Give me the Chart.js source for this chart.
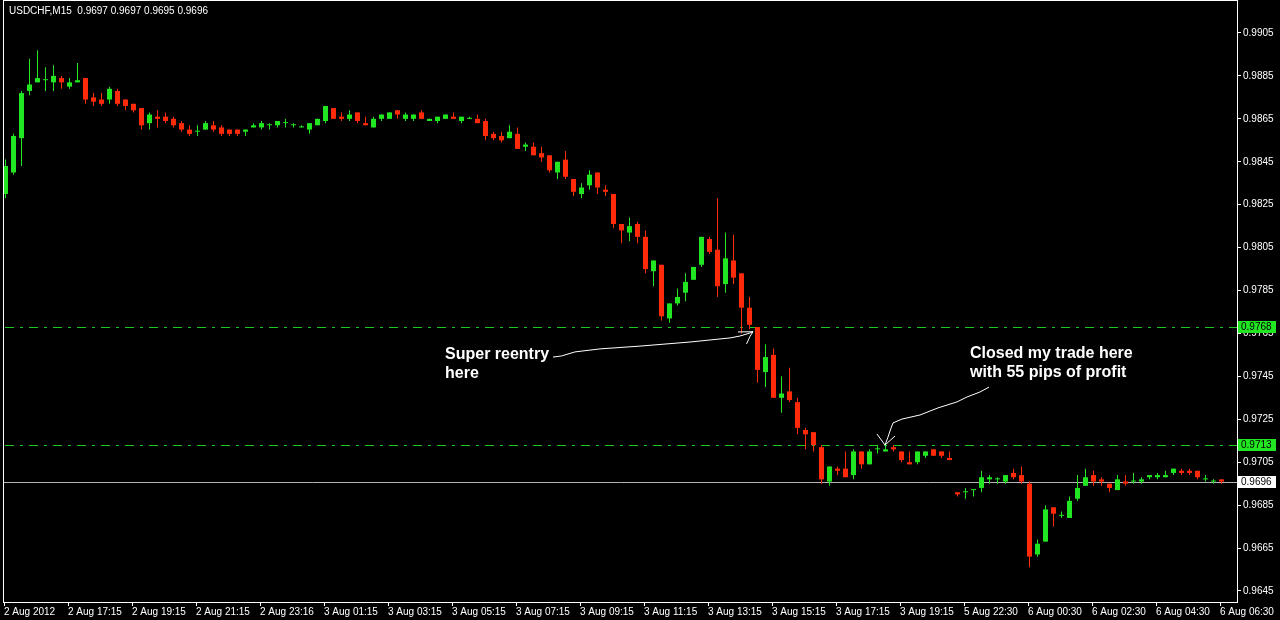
<!DOCTYPE html>
<html lang="en">
<head>
  <meta charset="UTF-8">
  <title>USDCHF,M15</title>
  <style>
    html, body {
      margin: 0;
      padding: 0;
      background-color: #000;
    }
    #chart {
      display: block;
    }
  </style>
  <script src="https://cdn.jsdelivr.net/npm/chart.js"></script>
</head>
<body>

<canvas id="chart" width="1280" height="620"></canvas>

<script>
  // USDCHF M15 bars, 2 Aug 2012 15:15 .. 6 Aug 2012 06:30 (bar index = position)
  const open = [
    0.9830, 0.9840, 0.9856, 0.9878, 0.9882, 0.9883, 0.9882, 0.9884, 0.9880, 0.9882,
    0.9884, 0.9875, 0.9874, 0.9874, 0.9878, 0.9874, 0.9872, 0.9870, 0.9863, 0.9866,
    0.9866, 0.9865, 0.9863, 0.9860, 0.9859, 0.9860, 0.9862, 0.9861, 0.9860, 0.9860,
    0.9859, 0.9861, 0.9861, 0.9862, 0.9862, 0.9863, 0.9862, 0.9861, 0.9860, 0.9862,
    0.9864, 0.9870, 0.9866, 0.9865, 0.9868, 0.9863, 0.9861, 0.9865, 0.9865, 0.9869,
    0.9865, 0.9865, 0.9868, 0.9864, 0.9864, 0.9865, 0.9866, 0.9864, 0.9865, 0.9865,
    0.9864, 0.9858, 0.9857, 0.9856, 0.9858, 0.9852, 0.9852, 0.9849, 0.9848, 0.9840,
    0.9846, 0.9837, 0.9830, 0.9834, 0.9840, 0.9832, 0.9830, 0.9816, 0.9812, 0.9816,
    0.9810, 0.9794, 0.9797, 0.9772, 0.9779, 0.9784, 0.9790, 0.9797, 0.9809, 0.9804,
    0.9788, 0.9799, 0.9793, 0.9777, 0.9768, 0.9747, 0.9755, 0.9735, 0.9738, 0.9733,
    0.9720, 0.9719, 0.9712, 0.9696, 0.9702, 0.9702, 0.9699, 0.9710, 0.9704, 0.9711,
    0.9710, 0.9712, 0.9710, 0.9705, 0.9705, 0.9708, 0.9711, 0.9710, 0.9707, 0.9691,
    0.9691, 0.9692, 0.9693, 0.9697, 0.9697, 0.9696, 0.9700, 0.9699, 0.9695, 0.9662,
    0.9668, 0.9684, 0.9680, 0.9679, 0.9688, 0.9694, 0.9699, 0.9697, 0.9695, 0.9692,
    0.9696, 0.9696, 0.9696, 0.9698, 0.9698, 0.9698, 0.9700, 0.9701, 0.9701, 0.9701,
    0.9697, 0.9696, 0.9697
  ];
  const high = [
    0.9846, 0.9858, 0.9878, 0.9893, 0.9897, 0.9889, 0.9890, 0.9885, 0.9884, 0.9891,
    0.9884, 0.9877, 0.9877, 0.9880, 0.9879, 0.9874, 0.9872, 0.9870, 0.9868, 0.9869,
    0.9868, 0.9866, 0.9864, 0.9862, 0.9862, 0.9864, 0.9864, 0.9862, 0.9860, 0.9860,
    0.9860, 0.9863, 0.9864, 0.9863, 0.9864, 0.9865, 0.9863, 0.9862, 0.9863, 0.9865,
    0.9871, 0.9870, 0.9868, 0.9869, 0.9868, 0.9866, 0.9866, 0.9867, 0.9868, 0.9869,
    0.9868, 0.9867, 0.9869, 0.9865, 0.9866, 0.9867, 0.9868, 0.9866, 0.9866, 0.9867,
    0.9865, 0.9859, 0.9859, 0.9862, 0.9861, 0.9854, 0.9854, 0.9852, 0.9848, 0.9845,
    0.9850, 0.9837, 0.9835, 0.9841, 0.9840, 0.9834, 0.9830, 0.9816, 0.9819, 0.9817,
    0.9813, 0.9799, 0.9797, 0.9779, 0.9786, 0.9793, 0.9796, 0.9810, 0.9810, 0.9828,
    0.9812, 0.9811, 0.9793, 0.9782, 0.9768, 0.9760, 0.9758, 0.9745, 0.9749, 0.9735,
    0.9721, 0.9719, 0.9713, 0.9703, 0.9703, 0.9710, 0.9711, 0.9710, 0.9711, 0.9713,
    0.9713, 0.9713, 0.9710, 0.9710, 0.9710, 0.9710, 0.9711, 0.9710, 0.9710, 0.9691,
    0.9693, 0.9692, 0.9701, 0.9699, 0.9698, 0.9699, 0.9702, 0.9703, 0.9696, 0.9669,
    0.9685, 0.9684, 0.9682, 0.9689, 0.9699, 0.9702, 0.9701, 0.9698, 0.9695, 0.9699,
    0.9699, 0.9700, 0.9698, 0.9699, 0.9700, 0.9701, 0.9702, 0.9702, 0.9702, 0.9701,
    0.9699, 0.9697, 0.9697
  ];
  const low = [
    0.9828, 0.9839, 0.9843, 0.9876, 0.9882, 0.9878, 0.9878, 0.9879, 0.9879, 0.9882,
    0.9872, 0.9871, 0.9871, 0.9872, 0.9871, 0.9869, 0.9868, 0.9860, 0.9860, 0.9861,
    0.9863, 0.9861, 0.9859, 0.9857, 0.9857, 0.9860, 0.9859, 0.9857, 0.9857, 0.9857,
    0.9857, 0.9861, 0.9860, 0.9860, 0.9861, 0.9861, 0.9861, 0.9861, 0.9858, 0.9862,
    0.9863, 0.9865, 0.9864, 0.9864, 0.9863, 0.9862, 0.9861, 0.9864, 0.9865, 0.9865,
    0.9864, 0.9864, 0.9865, 0.9864, 0.9863, 0.9865, 0.9865, 0.9863, 0.9865, 0.9863,
    0.9855, 0.9855, 0.9854, 0.9856, 0.9851, 0.9850, 0.9848, 0.9845, 0.9840, 0.9837,
    0.9837, 0.9829, 0.9828, 0.9832, 0.9830, 0.9829, 0.9814, 0.9807, 0.9808, 0.9807,
    0.9793, 0.9787, 0.9771, 0.9770, 0.9778, 0.9780, 0.9790, 0.9796, 0.9802, 0.9782,
    0.9784, 0.9788, 0.9765, 0.9767, 0.9742, 0.9740, 0.9735, 0.9728, 0.9733, 0.9718,
    0.9711, 0.9710, 0.9695, 0.9694, 0.9699, 0.9698, 0.9697, 0.9702, 0.9704, 0.9709,
    0.9710, 0.9710, 0.9705, 0.9704, 0.9704, 0.9707, 0.9708, 0.9707, 0.9706, 0.9689,
    0.9688, 0.9689, 0.9691, 0.9695, 0.9695, 0.9695, 0.9697, 0.9695, 0.9656, 0.9661,
    0.9668, 0.9675, 0.9679, 0.9679, 0.9687, 0.9694, 0.9694, 0.9694, 0.9691, 0.9692,
    0.9694, 0.9695, 0.9695, 0.9697, 0.9697, 0.9698, 0.9699, 0.9699, 0.9699, 0.9697,
    0.9696, 0.9695, 0.9695
  ];
  const close = [
    0.9843, 0.9857, 0.9877, 0.9881, 0.9884, 0.9883, 0.9885, 0.9882, 0.9882, 0.9883,
    0.9874, 0.9873, 0.9872, 0.9879, 0.9872, 0.9871, 0.9869, 0.9862, 0.9867, 0.9865,
    0.9864, 0.9862, 0.9860, 0.9858, 0.9859, 0.9863, 0.9860, 0.9858, 0.9858, 0.9858,
    0.9860, 0.9862, 0.9863, 0.9862, 0.9864, 0.9863, 0.9862, 0.9861, 0.9863, 0.9865,
    0.9871, 0.9865, 0.9865, 0.9867, 0.9864, 0.9862, 0.9865, 0.9867, 0.9868, 0.9867,
    0.9867, 0.9867, 0.9865, 0.9865, 0.9866, 0.9867, 0.9865, 0.9866, 0.9865, 0.9863,
    0.9857, 0.9856, 0.9855, 0.9859, 0.9851, 0.9853, 0.9848, 0.9847, 0.9841, 0.9845,
    0.9838, 0.9831, 0.9833, 0.9839, 0.9833, 0.9831, 0.9816, 0.9813, 0.9815, 0.9810,
    0.9795, 0.9799, 0.9773, 0.9779, 0.9782, 0.9789, 0.9796, 0.9810, 0.9803, 0.9787,
    0.9800, 0.9791, 0.9777, 0.9769, 0.9748, 0.9754, 0.9735, 0.9737, 0.9734, 0.9721,
    0.9718, 0.9713, 0.9697, 0.9703, 0.9701, 0.9698, 0.9710, 0.9704, 0.9710, 0.9711,
    0.9711, 0.9711, 0.9706, 0.9704, 0.9710, 0.9710, 0.9708, 0.9708, 0.9706, 0.9690,
    0.9691, 0.9692, 0.9698, 0.9698, 0.9697, 0.9699, 0.9698, 0.9696, 0.9661, 0.9667,
    0.9683, 0.9681, 0.9680, 0.9687, 0.9693, 0.9698, 0.9696, 0.9696, 0.9693, 0.9697,
    0.9695, 0.9696, 0.9697, 0.9699, 0.9699, 0.9699, 0.9702, 0.9700, 0.9700, 0.9698,
    0.9697, 0.9696, 0.9696
  ];

  // time axis labels, one every 8 bars (2 hours)
  const tickBars = [0, 8, 16, 24, 32, 40, 48, 56, 64, 72, 80, 88, 96, 104, 112, 120, 128, 136, 144, 152];
  const tickLabels = [
    '2 Aug 2012', '2 Aug 17:15', '2 Aug 19:15', '2 Aug 21:15', '2 Aug 23:16',
    '3 Aug 01:15', '3 Aug 03:15', '3 Aug 05:15', '3 Aug 07:15', '3 Aug 09:15',
    '3 Aug 11:15', '3 Aug 13:15', '3 Aug 15:15', '3 Aug 17:15', '3 Aug 19:15',
    '5 Aug 22:30', '6 Aug 00:30', '6 Aug 02:30', '6 Aug 04:30', '6 Aug 06:30'
  ];
  const priceTicks = [0.9645, 0.9665, 0.9685, 0.9705, 0.9725, 0.9745, 0.9765,
                      0.9785, 0.9805, 0.9825, 0.9845, 0.9865, 0.9885, 0.9905];

  const levels = [0.9768, 0.9713];   // entry / exit lines
  const bid = 0.9696;
  const title = 'USDCHF,M15  0.9697 0.9697 0.9695 0.9696';

  // hand-drawn notes, in (bar, price) units
  const notes = [
    { lines: ['Super reentry', 'here'], bar: 54.94, price: 0.97531 },
    { lines: ['Closed my trade here', 'with 55 pips of profit'], bar: 120.56, price: 0.97536 }
  ];
  const arrows = [
    {
      path: [[68.44, 0.97540], [69.5, 0.97545], [71.19, 0.97564], [74.31, 0.97578], [79.31, 0.97591],
             [85.56, 0.97610], [90.56, 0.97629], [91.81, 0.97638], [93.06, 0.97652], [93.44, 0.97658]],
      heads: [
        [[91.56, 0.97657], [93.44, 0.97658]],
        [[92.63, 0.97601], [93.06, 0.97636], [93.44, 0.97658]]
      ]
    },
    {
      path: [[122.94, 0.97400], [121.81, 0.97377], [120.19, 0.97354], [118.94, 0.97331], [116.56, 0.97303],
             [114.31, 0.97270], [112.06, 0.97251], [110.94, 0.97233], [110.69, 0.97209], [110.31, 0.97167],
             [109.94, 0.97130]],
      heads: [
        [[108.94, 0.97181], [109.94, 0.97130], [111.19, 0.97172]]
      ]
    }
  ];

  const UP = '#22e622';
  const DOWN = '#ff2a0a';
  const FONT = "'Liberation Sans', Arial, sans-serif";
  const BAR_SHIFT = -0.1875; // MT4 puts the time tick at the bar's left side

  const colors = open.map((o, i) => close[i] >= o ? UP : DOWN);

  const overlay = {
    id: 'overlay',
    beforeDatasetsDraw(chart) {
      const { ctx, chartArea: a, scales: { y } } = chart;
      ctx.save();
      ctx.lineWidth = 1;
      ctx.strokeStyle = '#1ec81e';
      ctx.setLineDash([9, 6, 3, 6]);
      ctx.lineDashOffset = -1;
      levels.forEach(v => {
        const py = Math.round(y.getPixelForValue(v)) + 0.5;
        ctx.beginPath();
        ctx.moveTo(a.left, py);
        ctx.lineTo(a.right, py);
        ctx.stroke();
      });
      ctx.setLineDash([]);
      ctx.strokeStyle = '#b4b4b4';
      const by = Math.round(y.getPixelForValue(bid)) + 0.5;
      ctx.beginPath();
      ctx.moveTo(a.left, by);
      ctx.lineTo(a.right, by);
      ctx.stroke();
      ctx.restore();
    },
    afterDatasetsDraw(chart) {
      const { ctx, scales: { x, y } } = chart;
      const pt = p => [x.getPixelForValue(p[0]), y.getPixelForValue(p[1])];
      const poly = pts => {
        ctx.beginPath();
        pts.map(pt).forEach((q, i) => i ? ctx.lineTo(q[0], q[1]) : ctx.moveTo(q[0], q[1]));
        ctx.stroke();
      };
      ctx.save();
      ctx.strokeStyle = '#ffffff';
      ctx.lineWidth = 1;
      arrows.forEach(ar => {
        poly(ar.path);
        ar.heads.forEach(poly);
      });

      ctx.fillStyle = '#ffffff';
      ctx.font = 'bold 16px ' + FONT;
      ctx.textBaseline = 'alphabetic';
      notes.forEach(n => {
        const [px, py] = pt([n.bar, n.price]);
        n.lines.forEach((t, i) => ctx.fillText(t, px, py + i * 19));
      });
      ctx.restore();
    },
    afterDraw(chart) {
      const { ctx, chartArea: a, scales: { y } } = chart;
      ctx.save();
      // frame
      ctx.strokeStyle = '#ffffff';
      ctx.lineWidth = 1;
      ctx.strokeRect(a.left - 0.5, 0.5, a.right - a.left + 1, a.bottom);

      // price tags on the right
      ctx.font = '10px ' + FONT;
      ctx.textBaseline = 'middle';
      const tag = (v, bg) => {
        const py = Math.round(y.getPixelForValue(v));
        ctx.fillStyle = bg;
        ctx.fillRect(a.right + 1, py - 6, 38, 12);
        ctx.fillStyle = '#000000';
        ctx.fillText(v.toFixed(4), a.right + 4, py + 0.5);
      };
      levels.forEach(v => tag(v, '#22e622'));
      tag(bid, '#ffffff');

      // symbol line
      ctx.fillStyle = '#ffffff';
      ctx.fillText(title, 9, 11);
      ctx.restore();
    }
  };

  Chart.defaults.font.family = FONT;
  Chart.defaults.font.size = 10;

  new Chart(document.getElementById('chart'), {
    type: 'bar',
    data: {
      datasets: [
        {
          label: 'body',
          data: open.map((o, i) => ({ x: i, y: [o, close[i]] })),
          backgroundColor: colors,
          borderWidth: 0,
          barThickness: 5,
          minBarLength: 1,
          inflateAmount: 0,
          grouped: false,
          order: 0
        },
        {
          label: 'wick',
          data: low.map((l, i) => ({ x: i, y: [l, high[i]] })),
          backgroundColor: colors,
          borderWidth: 0,
          barThickness: 1,
          minBarLength: 1,
          inflateAmount: 0,
          grouped: false,
          order: 1
        }
      ]
    },
    plugins: [overlay],
    options: {
      responsive: false,
      animation: false,
      layout: { padding: { left: 4, top: 1, right: 0, bottom: 0 } },
      plugins: {
        legend: { display: false },
        tooltip: { enabled: false }
      },
      scales: {
        x: {
          type: 'linear',
          position: 'bottom',
          min: -0.1875,
          max: 153.9375,
          offset: false,
          afterBuildTicks: s => { s.ticks = tickBars.map(v => ({ value: v + BAR_SHIFT })); },
          afterFit: s => { s.height = 18; s.paddingLeft = 0; s.paddingRight = 0; },
          grid: {
            display: true,
            drawOnChartArea: false,
            drawTicks: true,
            tickLength: 4,
            color: '#ffffff',
            offset: false
          },
          border: { display: false },
          ticks: {
            autoSkip: false,
            maxRotation: 0,
            align: 'start',
            padding: 0,
            color: '#ffffff',
            callback: (v, i) => tickLabels[i]
          }
        },
        y: {
          type: 'linear',
          position: 'right',
          min: 0.963986,
          max: 0.991991,
          afterBuildTicks: s => { s.ticks = priceTicks.map(v => ({ value: v })); },
          afterFit: s => { s.width = 43; s.paddingTop = 0; s.paddingBottom = 0; },
          grid: {
            display: true,
            drawOnChartArea: false,
            drawTicks: true,
            tickLength: 4,
            color: '#ffffff'
          },
          border: { display: false },
          ticks: {
            padding: 2,
            color: '#ffffff',
            callback: v => v.toFixed(4)
          }
        }
      }
    }
  });
</script>

</body>
</html>
